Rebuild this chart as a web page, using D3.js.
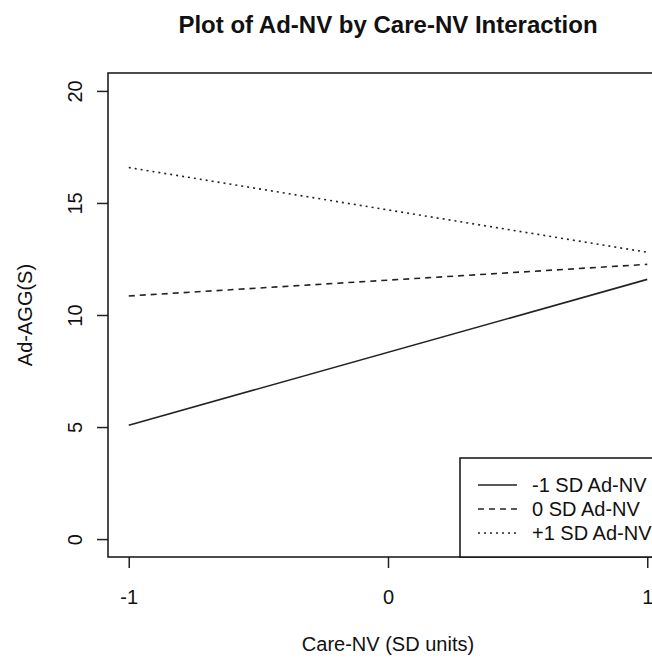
<!DOCTYPE html>
<html>
<head>
<meta charset="utf-8">
<script src="https://cdn.jsdelivr.net/npm/d3@7"></script>
<style>
  body { margin: 0; background: #fff; }
  text { font-family: "Liberation Sans", Arial, sans-serif; fill: #111; }
</style>
</head>
<body>
<div id="chart"></div>
<script>
// data
let xPoints = [-1, 1];
let groups = ["-1 SD Ad-NV", "0 SD Ad-NV", "+1 SD Ad-NV"];
let lowSD = [5.08, 11.59];
let meanSD = [10.85, 12.26];
let highSD = [16.58, 12.8];
let xTicks = [-1, 0, 1];
let yTicks = [0, 5, 10, 15, 20];

let width = 652;
let height = 658;

// plot region (R style, axes extended 4% past the data range)
let margin = { top: 73, left: 108, bottom: 557, right: 668 };

let svg = d3.select("#chart")
  .append("svg")
  .attr("width", width)
  .attr("height", height);

let xScale = d3.scaleLinear()
  .domain([-1.08, 1.08])
  .range([margin.left, margin.right]);

let yScale = d3.scaleLinear()
  .domain([-0.8, 20.8])
  .range([margin.bottom, margin.top]);

// x axis
let xAxis = svg.append("g")
  .attr("transform", `translate(0, ${margin.bottom})`)
  .call(d3.axisBottom(xScale).tickValues(xTicks).tickSize(11).tickPadding(22).tickFormat(d => String(d)));
xAxis.select(".domain").remove();
xAxis.selectAll("text").attr("font-size", "20px").attr("font-family", null);
xAxis.selectAll("line").attr("stroke", "#222").attr("stroke-width", 1.5);

// y axis, labels turned like R does it
let yAxis = svg.append("g")
  .attr("transform", `translate(${margin.left}, 0)`)
  .call(d3.axisLeft(yScale).tickValues(yTicks).tickSize(11));
yAxis.select(".domain").remove();
yAxis.selectAll("line").attr("stroke", "#222").attr("stroke-width", 1.5);
yAxis.selectAll("text")
  .attr("font-size", "20px")
  .attr("font-family", null)
  .attr("transform", "rotate(-90)")
  .attr("x", 0)
  .attr("y", -26)
  .attr("dy", 0)
  .attr("text-anchor", "middle");

// lines
let dashes = [null, "6,5", "2,4"];
let series = [lowSD, meanSD, highSD];
let line = d3.line()
  .x((d, i) => xScale(xPoints[i]))
  .y(d => yScale(d));

svg.selectAll(".series")
  .data(series)
  .enter()
  .append("path")
  .attr("class", "series")
  .attr("d", d => line(d))
  .attr("fill", "none")
  .attr("stroke", "#222")
  .attr("stroke-width", 1.6)
  .attr("stroke-dasharray", (d, i) => dashes[i]);

// box round the plot
svg.append("rect")
  .attr("x", margin.left)
  .attr("y", margin.top)
  .attr("width", margin.right - margin.left)
  .attr("height", margin.bottom - margin.top)
  .attr("fill", "none")
  .attr("stroke", "#111")
  .attr("stroke-width", 1.5);

// legend (bottom right)
let legend = svg.append("g");
legend.append("rect")
  .attr("x", 460)
  .attr("y", 458)
  .attr("width", margin.right - 460)
  .attr("height", margin.bottom - 458)
  .attr("fill", "#fff")
  .attr("stroke", "#111")
  .attr("stroke-width", 1.5);

let rowY = [485, 509, 533];
groups.forEach((g, i) => {
  legend.append("line")
    .attr("x1", 478)
    .attr("x2", 517)
    .attr("y1", rowY[i])
    .attr("y2", rowY[i])
    .attr("stroke", "#222")
    .attr("stroke-width", 1.6)
    .attr("stroke-dasharray", dashes[i]);
  legend.append("text")
    .attr("x", 532)
    .attr("y", rowY[i] + 7)
    .attr("font-size", "20px")
    .text(g);
});

// title
svg.append("text")
  .attr("x", 388)
  .attr("y", 33)
  .attr("text-anchor", "middle")
  .attr("font-size", "24px")
  .attr("font-weight", "bold")
  .text("Plot of Ad-NV by Care-NV Interaction");

// axis titles
svg.append("text")
  .attr("x", 388)
  .attr("y", 651)
  .attr("text-anchor", "middle")
  .attr("font-size", "20px")
  .text("Care-NV (SD units)");

svg.append("text")
  .attr("transform", "rotate(-90)")
  .attr("x", -315)
  .attr("y", 32)
  .attr("text-anchor", "middle")
  .attr("font-size", "20px")
  .text("Ad-AGG(S)");
</script>
</body>
</html>
